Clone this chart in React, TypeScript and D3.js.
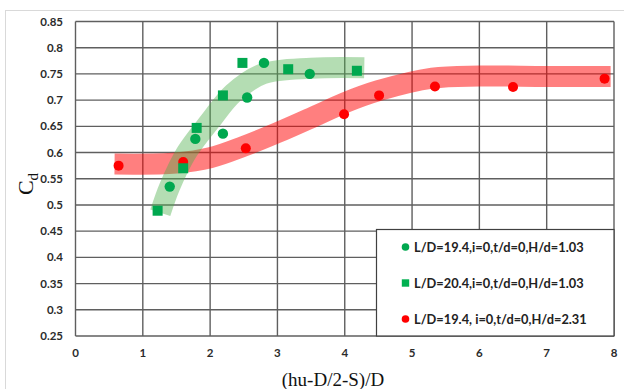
import { useEffect, useRef } from 'react';
import * as d3 from 'd3';

type Pt = [number, number];

// series 1: L/D=19.4, H/d=1.03 (circles)
const greenCircles: Pt[] = [
  [1.4, 0.535],
  [1.78, 0.626],
  [2.19, 0.636],
  [2.55, 0.705],
  [2.8, 0.771],
  [3.48, 0.75],
];

// series 2: L/D=20.4, H/d=1.03 (squares)
const greenSquares: Pt[] = [
  [1.22, 0.489],
  [1.6, 0.57],
  [1.8, 0.647],
  [2.19, 0.709],
  [2.48, 0.771],
  [3.16, 0.759],
  [4.18, 0.756],
];

// series 3: L/D=19.4, H/d=2.31 (red circles)
const redCircles: Pt[] = [
  [0.64, 0.575],
  [1.6, 0.582],
  [2.53, 0.608],
  [3.99, 0.673],
  [4.51, 0.709],
  [5.34, 0.726],
  [6.5, 0.725],
  [7.86, 0.741],
];

// hand-drawn trend bands
const greenBand: Pt[] = [
  [1.26, 0.485],
  [1.4, 0.535],
  [1.65, 0.6],
  [2.0, 0.66],
  [2.34, 0.713],
  [2.78, 0.75],
  [3.5, 0.761],
  [4.29, 0.762],
];

const redBand: Pt[] = [
  [0.58, 0.578],
  [1.5, 0.58],
  [2.0, 0.59],
  [2.5, 0.612],
  [3.0, 0.638],
  [3.6, 0.672],
  [4.0, 0.695],
  [4.5, 0.718],
  [5.3, 0.742],
  [6.0, 0.746],
  [7.0, 0.745],
  [7.95, 0.745],
];

const xTicks = [0, 1, 2, 3, 4, 5, 6, 7, 8];
const yTicks = [0.25, 0.3, 0.35, 0.4, 0.45, 0.5, 0.55, 0.6, 0.65, 0.7, 0.75, 0.8, 0.85];

const legendItems = [
  { label: 'L/D=19.4,i=0,t/d=0,H/d=1.03', shape: 'circle', color: '#00a84f' },
  { label: 'L/D=20.4,i=0,t/d=0,H/d=1.03', shape: 'square', color: '#00b050' },
  { label: 'L/D=19.4, i=0,t/d=0,H/d=2.31', shape: 'circle', color: '#ff0000' },
];

function draw(el: SVGSVGElement) {
  const svg = d3.select(el);
  svg.selectAll('*').remove();

  const width = 624;
  const height = 389;
  const margin = { left: 75.5, right: 10, top: 21.5, bottom: 53 };

  const x = d3.scaleLinear().domain([0, 8]).range([margin.left, width - margin.right]);
  const y = d3.scaleLinear().domain([0.25, 0.85]).range([height - margin.bottom, margin.top]);

  svg.attr('viewBox', `0 0 ${width} ${height}`);

  // outer frame
  svg
    .append('rect')
    .attr('x', 5.5)
    .attr('y', 10.5)
    .attr('width', 640)
    .attr('height', 400)
    .attr('fill', 'white')
    .attr('stroke', '#d9d9d9');

  const grid = svg.append('g').attr('stroke', '#5f5f5f').attr('stroke-width', 1.4);
  grid
    .selectAll('line.h')
    .data(yTicks)
    .join('line')
    .attr('x1', x(0))
    .attr('x2', x(8))
    .attr('y1', (d: number) => y(d))
    .attr('y2', (d: number) => y(d));
  grid
    .selectAll('line.v')
    .data(xTicks)
    .join('line')
    .attr('x1', (d: number) => x(d))
    .attr('x2', (d: number) => x(d))
    .attr('y1', y(0.25))
    .attr('y2', y(0.85));

  // tick labels
  svg
    .append('g')
    .selectAll('text')
    .data(yTicks)
    .join('text')
    .attr('x', 63)
    .attr('y', (d: number) => y(d))
    .attr('dy', '0.35em')
    .attr('text-anchor', 'end')
    .attr('font-family', 'Lato, "Open Sans", sans-serif')
    .attr('font-weight', 'bold')
    .attr('font-size', 11.5)
    .attr('fill', '#2b2b2b')
    .text((d: number) => String(+d.toFixed(2)));

  svg
    .append('g')
    .selectAll('text')
    .data(xTicks)
    .join('text')
    .attr('x', (d: number) => x(d))
    .attr('y', 357)
    .attr('text-anchor', 'middle')
    .attr('font-family', 'Lato, "Open Sans", sans-serif')
    .attr('font-weight', 'bold')
    .attr('font-size', 11.5)
    .attr('fill', '#2b2b2b')
    .text((d: number) => String(d));

  // trend bands
  const line = d3
    .line<Pt>()
    .x((d) => x(d[0]))
    .y((d) => y(d[1]))
    .curve(d3.curveCatmullRom.alpha(0.5));

  svg
    .append('path')
    .attr('d', line(redBand))
    .attr('fill', 'none')
    .attr('stroke', '#ff0000')
    .attr('stroke-opacity', 0.5)
    .attr('stroke-width', 21);

  svg
    .append('path')
    .attr('d', line(greenBand))
    .attr('fill', 'none')
    .attr('stroke', '#4daf4a')
    .attr('stroke-opacity', 0.42)
    .attr('stroke-width', 21);

  // markers
  svg
    .append('g')
    .selectAll('circle')
    .data(redCircles)
    .join('circle')
    .attr('cx', (d: Pt) => x(d[0]))
    .attr('cy', (d: Pt) => y(d[1]))
    .attr('r', 5)
    .attr('fill', '#ff0000');

  svg
    .append('g')
    .selectAll('rect')
    .data(greenSquares)
    .join('rect')
    .attr('x', (d: Pt) => x(d[0]) - 5)
    .attr('y', (d: Pt) => y(d[1]) - 5)
    .attr('width', 10)
    .attr('height', 10)
    .attr('fill', '#00a84f');

  svg
    .append('g')
    .selectAll('circle')
    .data(greenCircles)
    .join('circle')
    .attr('cx', (d: Pt) => x(d[0]))
    .attr('cy', (d: Pt) => y(d[1]))
    .attr('r', 5.2)
    .attr('fill', '#00a84f');

  // legend
  const lg = svg.append('g');
  lg.append('rect')
    .attr('x', 376.5)
    .attr('y', 229.5)
    .attr('width', 237.5)
    .attr('height', 106.5)
    .attr('fill', 'white')
    .attr('stroke', '#404040')
    .attr('stroke-width', 1.2);

  legendItems.forEach((item, i) => {
    const cy = 247 + i * 36;
    if (item.shape === 'circle') {
      lg.append('circle').attr('cx', 405.5).attr('cy', cy).attr('r', 3.8).attr('fill', item.color);
    } else {
      lg.append('rect')
        .attr('x', 401.8)
        .attr('y', cy - 3.7)
        .attr('width', 7.4)
        .attr('height', 7.4)
        .attr('fill', item.color);
    }
    lg.append('text')
      .attr('x', 414)
      .attr('y', cy)
      .attr('dy', '0.36em')
      .attr('font-family', 'Lato, "Open Sans", sans-serif')
      .attr('font-weight', 'bold')
      .attr('font-size', 12.8)
      .attr('fill', '#222')
      .text(item.label);
  });

  // axis titles
  svg
    .append('text')
    .attr('x', 333)
    .attr('y', 386)
    .attr('text-anchor', 'middle')
    .attr('font-family', '"Liberation Serif", serif')
    .attr('font-size', 19)
    .attr('fill', '#111')
    .text('(hu-D/2-S)/D');

  const yt = svg
    .append('text')
    .attr('transform', 'translate(33,184) rotate(-90)')
    .attr('text-anchor', 'middle')
    .attr('font-family', '"Liberation Serif", serif')
    .attr('font-size', 22)
    .attr('fill', '#111');
  yt.append('tspan').text('C');
  yt.append('tspan').attr('font-size', 15).attr('dy', 5).text('d');
}

export default function App() {
  const ref = useRef<SVGSVGElement>(null);

  useEffect(() => {
    if (ref.current) {
      draw(ref.current);
    }
  }, []);

  return (
    <svg
      ref={ref}
      width={624}
      height={389}
      style={{ position: 'absolute', left: 0, top: 0, display: 'block' }}
    />
  );
}
